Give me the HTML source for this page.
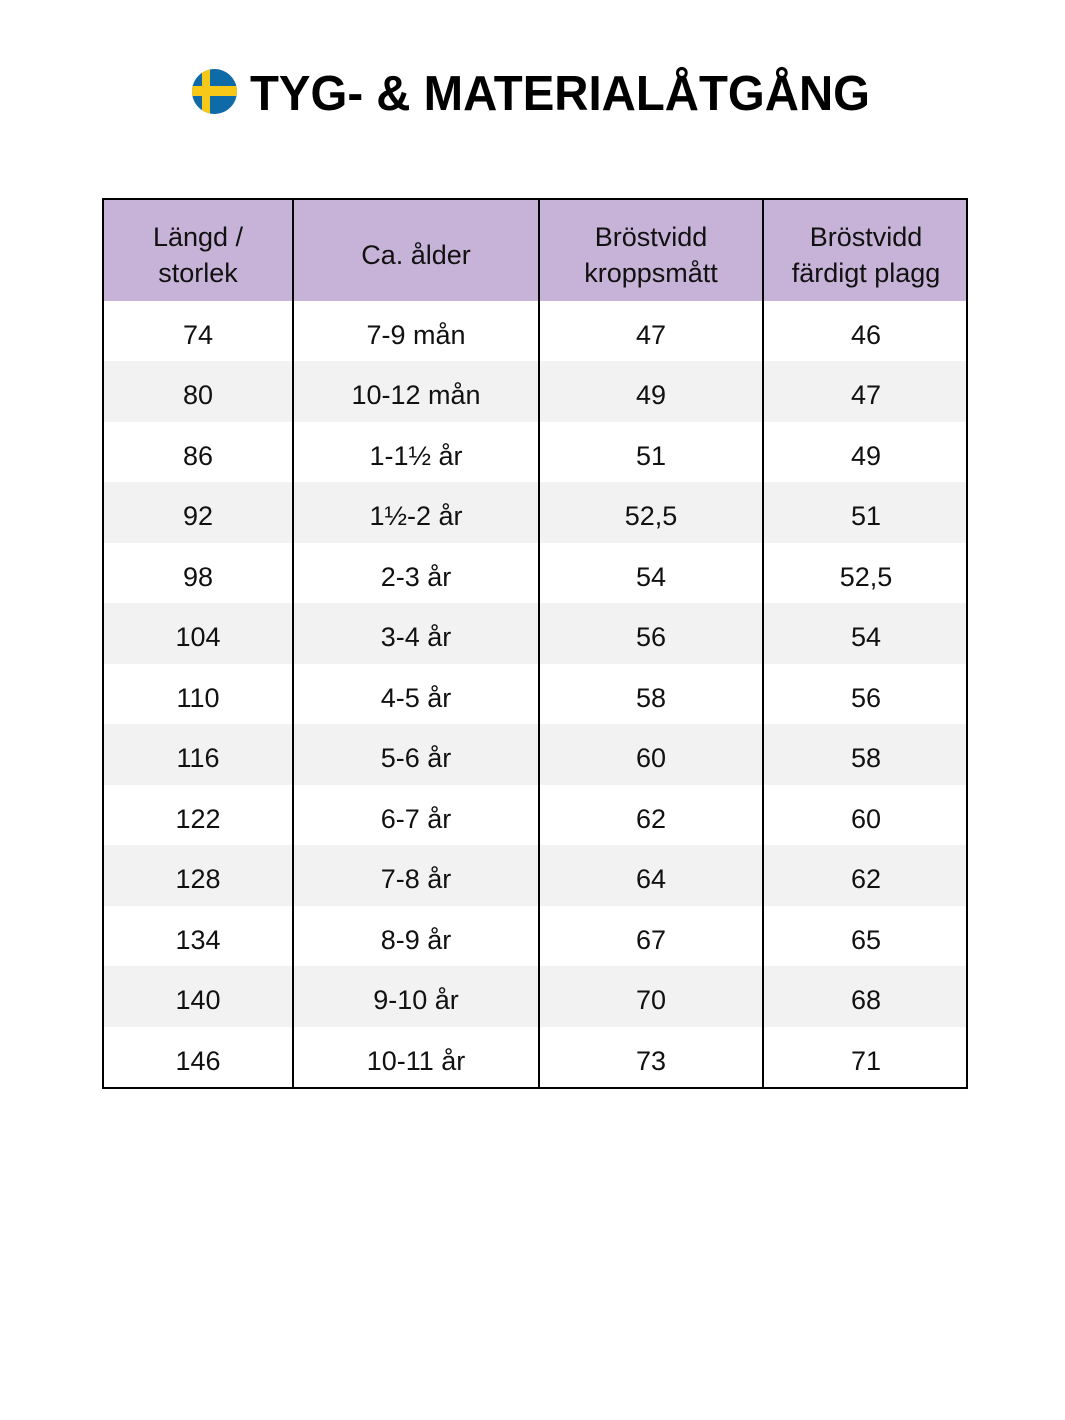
<!DOCTYPE html>
<html><head><meta charset="utf-8"><style>
body{margin:0;width:1065px;height:1420px;background:#fff;position:relative;font-family:"Liberation Sans",sans-serif;color:#111;}
.t{position:absolute;left:102px;top:198px;width:866px;height:891px;border:2px solid #000;box-sizing:border-box;overflow:hidden;}
.h{position:absolute;left:0;top:0;width:100%;height:101px;background:#c6b3d7;}
.r{position:absolute;left:0;width:100%;}
.c{position:absolute;text-align:center;font-size:27px;}
.v{position:absolute;top:0;bottom:0;width:2px;background:#000;}
</style></head><body>
<svg style="position:absolute;left:0;top:0" width="1065" height="160">
<defs><clipPath id="cp"><circle cx="214.5" cy="91.5" r="22.5"/></clipPath></defs>
<g clip-path="url(#cp)"><rect x="190" y="67" width="50" height="50" fill="#0f6aa8"/>
<rect x="202" y="67" width="8" height="50" fill="#f7c817"/><rect x="190" y="86" width="50" height="10" fill="#f7c817"/></g>
<text x="250" y="110" font-family="Liberation Sans, sans-serif" font-weight="bold" font-size="49" textLength="620" lengthAdjust="spacingAndGlyphs" fill="#000">TYG- &amp; MATERIALÅTGÅNG</text>
</svg>
<div class="t">
<div class="h"></div>
<div id="rows"></div>
<div class="c" style="left:0;width:188px;top:19px;line-height:36px">Längd /<br>storlek</div>
<div class="c" style="left:190px;width:244px;top:37px;line-height:36px">Ca. ålder</div>
<div class="c" style="left:436px;width:222px;top:19px;line-height:36px">Bröstvidd<br>kroppsmått</div>
<div class="c" style="left:660px;width:204px;top:19px;line-height:36px">Bröstvidd<br>färdigt plagg</div>
<div class="v" style="left:188px"></div><div class="v" style="left:434px"></div><div class="v" style="left:658px"></div>
</div>
<script>
(function(){
var d=[["74","7-9 mån","47","46"],["80","10-12 mån","49","47"],["86","1-1½ år","51","49"],["92","1½-2 år","52,5","51"],["98","2-3 år","54","52,5"],["104","3-4 år","56","54"],["110","4-5 år","58","56"],["116","5-6 år","60","58"],["122","6-7 år","62","60"],["128","7-8 år","64","62"],["134","8-9 år","67","65"],["140","9-10 år","70","68"],["146","10-11 år","73","71"]];
var L=[[0,188],[190,244],[436,222],[660,204]],h="",rh=(887-101)/13;
for(var i=0;i<13;i++){var yy=101+i*rh;
h+='<div class="r" style="top:'+yy+'px;height:'+rh+'px;background:'+(i%2?'#f2f2f3':'#fff')+'"></div>';
for(var j=0;j<4;j++)h+='<div class="c" style="left:'+L[j][0]+'px;width:'+L[j][1]+'px;top:'+(yy+4)+'px;line-height:60px">'+d[i][j]+'</div>';}
document.getElementById('rows').outerHTML=h;
})();
</script>
</body></html>
